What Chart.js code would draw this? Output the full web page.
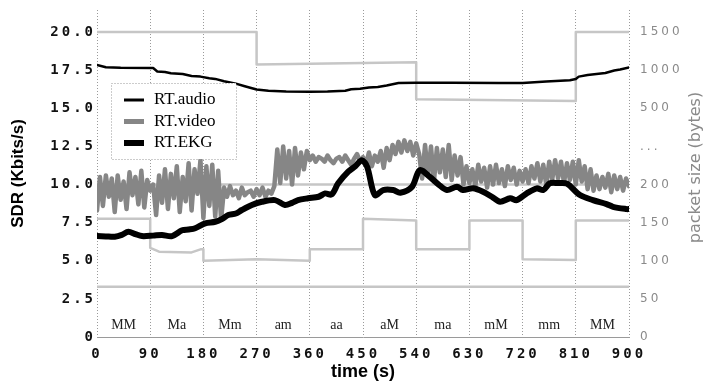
<!DOCTYPE html>
<html>
<head>
<meta charset="utf-8">
<script src="https://cdn.jsdelivr.net/npm/chart.js@4.4.0/dist/chart.umd.min.js"></script>
<style>
  html, body { margin: 0; padding: 0; background: #fff; }
  #wrap { width: 704px; height: 383px; }
</style>
</head>
<body>
<div id="wrap"><canvas id="sdrChart"></canvas></div>
<script>
// experiment phases, 90 s each
const phaseLen = 90;
const phaseStart = [0, 90, 180, 270, 360, 450, 540, 630, 720, 810];
const phaseLabels = ['MM', 'Ma', 'Mm', 'am', 'aa', 'aM', 'ma', 'mM', 'mm', 'MM'];

// axis ticks
const timeTicks = [0, 90, 180, 270, 360, 450, 540, 630, 720, 810, 900];
const sdrTicks = [0, 2.5, 5, 7.5, 10, 12.5, 15, 17.5, 20];
const packetTickLabels = ['0', '50', '100', '150', '200', '...', '500', '1000', '1500'];

// RT.audio SDR (Kbits/s)
const audioTime = [0, 15, 40, 95, 102, 115, 125, 145, 160, 175, 190, 200, 215, 235, 250, 270, 290, 320, 360, 390,
  400, 420, 430, 445, 460, 475, 490, 510, 540, 600, 680, 720, 760, 800, 810, 815, 830, 845, 860, 875, 885, 900];
const audioSdr = [17.84, 17.7, 17.66, 17.64, 17.42, 17.38, 17.3, 17.25, 17.12, 17.08, 16.98, 16.93, 16.78, 16.62, 16.45, 16.24, 16.16, 16.1, 16.08, 16.1,
  16.12, 16.15, 16.25, 16.28, 16.36, 16.4, 16.5, 16.66, 16.68, 16.68, 16.66, 16.66, 16.76, 16.84, 16.92, 17.08, 17.18, 17.25, 17.32, 17.48, 17.55, 17.68];

// RT.video SDR, sampled every 5 s
const videoStep = 5;
const videoSdr = [
  8.3, 10.5, 8.6, 10.6, 9.2, 10.4, 8.2, 10.6, 9.0, 10.2, 8.4, 10.8, 9.3, 10.5, 8.7, 10.9, 8.5, 10.3, 9.6,
  10.0, 8.0, 10.6, 8.8, 11.0, 8.4, 10.7, 9.1, 11.2, 8.2, 10.5, 8.9, 11.4, 8.3, 11.0, 9.4, 11.6, 7.8, 11.2, 8.6, 11.3, 7.9,
  10.9, 7.7, 9.8, 9.2, 9.9, 9.3, 9.6, 9.1, 9.8, 9.3, 9.5, 9.6, 9.2, 9.7, 9.3, 9.8, 9.2, 9.6, 9.4, 9.9,
  12.3, 10.1, 12.5, 10.4, 12.2, 10.0, 12.4, 10.6, 12.1, 11.0, 12.2,
  11.6, 11.9, 11.5, 11.8, 11.7, 11.5, 11.9, 11.6, 11.4, 11.7, 11.8, 11.5, 11.9, 11.6, 11.3, 11.7, 12.0, 11.5, 11.8,
  11.3, 12.1, 11.2, 11.9, 11.5, 12.2, 11.1, 12.4, 11.6, 12.6, 12.0,
  12.8, 12.1, 12.9, 12.2, 12.8, 11.9, 12.7, 12.0,
  10.4, 12.6, 10.6, 12.5, 10.2, 12.4, 10.8, 12.3, 10.5, 12.6, 10.3, 11.9, 10.6, 11.8,
  10.0, 11.2, 10.1, 11.0, 9.9, 11.3, 10.2, 11.1, 9.8, 11.2, 10.0, 11.3, 10.1, 11.0, 9.9, 11.2, 10.3, 11.1, 10.0, 10.9,
  10.2, 11.0, 10.1, 11.2, 10.4, 11.4, 10.2, 11.3, 10.0, 11.5, 10.3, 11.6, 10.4, 11.5, 10.1, 11.4, 10.3, 11.5, 10.0, 11.6,
  10.2, 11.2, 9.7, 11.0, 9.6, 10.6, 9.7, 10.5, 9.8, 10.7, 9.5, 10.6, 9.7, 10.5, 9.6, 10.4, 9.9
];

// RT.EKG SDR
const ekgTime = [0, 15, 30, 42, 53, 65, 76, 95, 110, 127, 144, 155, 166, 183, 200, 212, 222, 235, 245, 262,
  279, 301, 318, 330, 340, 357, 375, 386, 397, 408, 425, 437, 448, 457, 470, 484, 501, 513, 533, 546,
  563, 578, 592, 609, 619, 636, 653, 668, 682, 699, 710, 727, 744, 755, 766, 780, 795, 817, 839, 862, 873, 896, 900];
const ekgSdr = [6.62, 6.6, 6.58, 6.7, 6.9, 6.75, 6.62, 6.65, 6.69, 6.62, 7.0, 7.05, 7.13, 7.46, 7.56, 7.75, 8.0, 8.1, 8.33, 8.66,
  8.87, 8.98, 8.66, 8.8, 8.98, 9.1, 9.2, 9.42, 9.35, 10.08, 10.84, 11.2, 11.6, 11.17, 9.31, 9.64, 9.64, 9.46, 9.86, 10.95,
  10.5, 10.0, 9.64, 9.86, 9.64, 9.75, 9.53, 9.2, 8.87, 9.1, 8.98, 9.42, 9.75, 9.64, 10.08, 10.1, 10.06, 9.31, 8.98, 8.72, 8.54, 8.39, 8.39];

// packet sizes (bytes), read on the right hand axis
const pktATime = [0, 270, 270, 540, 540, 810, 810, 900];
const pktABytes = [1500, 1500, 1075, 1105, 620, 595, 1500, 1500];
const pktBTime = [0, 90, 90, 105, 160, 175, 180, 180, 270, 360, 360, 450, 450, 540, 540, 630, 630, 720, 720, 810, 810, 900];
const pktBBytes = [155, 155, 117, 112, 111, 115, 115, 100, 102, 100, 115, 115, 155, 153, 115, 115, 153, 153, 102, 101, 153, 153];
const pktCTime = [0, 900];
const pktCBytes = [200, 200];
const pktDTime = [0, 900];
const pktDBytes = [66, 66];

// right axis is broken: 0..200 bytes linear, then 500..1500
function packetToAxis(p) {
  return p <= 200 ? p / 20 : 12.5 + p / 200;
}

const toPts = (xs, ys) => xs.map((x, i) => ({ x: x, y: ys[i] }));
const pktPts = (xs, bytes) => xs.map((x, i) => ({ x: x, y: packetToAxis(bytes[i]) }));

const pktGray = '#c6c6c6';
const legendWidths = { 'RT.audio': 3, 'RT.video': 5, 'RT.EKG': 6 };

// tick labels are spaced out a bit like in the original plot
const spacing = {
  id: 'spacing',
  beforeDraw(chart) { chart.ctx.letterSpacing = '0px'; },
  afterDatasetsDraw(chart) { chart.ctx.letterSpacing = '3px'; },
  afterDraw(chart) { chart.ctx.letterSpacing = '0px'; }
};

const decor = {
  id: 'decor',
  afterDraw(chart) {
    const { ctx, chartArea, scales } = chart;
    ctx.save();
    ctx.letterSpacing = '0px';

    // phase names
    ctx.font = '14px "Liberation Serif"';
    ctx.fillStyle = '#222';
    ctx.textAlign = 'center';
    ctx.textBaseline = 'middle';
    phaseStart.forEach((t, i) => {
      const mid = scales.x.getPixelForValue(t + phaseLen / 2);
      ctx.fillText(phaseLabels[i], mid, chartArea.bottom - 12);
    });

    // legend box
    const bx = chartArea.left + 14, by = chartArea.top + 73;
    ctx.fillStyle = '#fff';
    ctx.fillRect(bx, by, 125, 76);
    ctx.setLineDash([1, 2]);
    ctx.strokeStyle = '#999';
    ctx.lineWidth = 1;
    ctx.strokeRect(bx + 0.5, by + 0.5, 125, 76);
    ctx.setLineDash([]);
    ctx.font = '17px "Liberation Serif"';
    ctx.textAlign = 'left';
    ['RT.audio', 'RT.video', 'RT.EKG'].forEach((name, i) => {
      const ds = chart.data.datasets.find(d => d.label === name);
      const y = by + 17 + i * 21.5;
      ctx.strokeStyle = ds.borderColor;
      ctx.lineWidth = legendWidths[name];
      ctx.beginPath();
      ctx.moveTo(bx + 13, y);
      ctx.lineTo(bx + 33, y);
      ctx.stroke();
      ctx.fillStyle = '#000';
      ctx.fillText(name, bx + 43, y);
    });

    // right axis title, reads bottom to top
    ctx.translate(696, (chartArea.top + chartArea.bottom) / 2 - 6);
    ctx.rotate(-Math.PI / 2);
    ctx.font = '16px "DejaVu Sans"';
    ctx.fillStyle = '#8a8a8a';
    ctx.textAlign = 'center';
    ctx.fillText('packet size (bytes)', 0, 0);
    ctx.restore();
  }
};

const tickFont = { family: '"DejaVu Sans Mono"', weight: 'bold', size: 14 };

// vertical axes: fixed width, no extra padding for the tick labels
const fixVertical = (w) => (s) => {
  s.width = w;
  s.paddingTop = 0;
  s.paddingBottom = 0;
};

new Chart(document.getElementById('sdrChart'), {
  type: 'line',
  data: {
    datasets: [
      { label: 'RT.EKG', data: toPts(ekgTime, ekgSdr), borderColor: '#000', borderWidth: 6, tension: 0.3 },
      { label: 'RT.video', data: videoSdr.map((v, i) => ({ x: i * videoStep, y: v })), borderColor: '#868686', borderWidth: 4.5 },
      { label: 'RT.audio', data: toPts(audioTime, audioSdr), borderColor: '#000', borderWidth: 2.5 },
      { label: 'pktA', data: pktPts(pktATime, pktABytes), borderColor: pktGray, borderWidth: 2.5 },
      { label: 'pktB', data: pktPts(pktBTime, pktBBytes), borderColor: pktGray, borderWidth: 2.5 },
      { label: 'pktC', data: pktPts(pktCTime, pktCBytes), borderColor: pktGray, borderWidth: 2.5 },
      { label: 'pktD', data: pktPts(pktDTime, pktDBytes), borderColor: pktGray, borderWidth: 2.5 }
    ]
  },
  options: {
    responsive: true,
    maintainAspectRatio: false,
    animation: false,
    layout: { padding: { top: 10, left: 0, right: 0, bottom: 0 } },
    elements: {
      point: { radius: 0 },
      line: { tension: 0, borderJoinStyle: 'round', borderCapStyle: 'round' }
    },
    plugins: {
      legend: { display: false },
      tooltip: { enabled: false }
    },
    scales: {
      x: {
        type: 'linear',
        min: 0,
        max: 900,
        afterBuildTicks: (s) => { s.ticks = timeTicks.map(v => ({ value: v })); },
        afterFit: (s) => { s.height = 46; s.paddingLeft = 0; s.paddingRight = 0; },
        grid: { color: '#9a9a9a', lineWidth: 1, drawTicks: false },
        border: { color: '#9a9a9a', dash: [1, 2] },
        ticks: { font: tickFont, color: '#111', padding: 9, maxRotation: 0, autoSkip: false, z: 1 },
        title: {
          display: true, text: 'time (s)', color: '#000', padding: 0,
          font: { family: '"Liberation Sans"', weight: 'bold', size: 18 }
        }
      },
      y: {
        position: 'left',
        min: 0,
        max: 21.45,
        afterBuildTicks: (s) => { s.ticks = sdrTicks.map(v => ({ value: v })); },
        afterFit: fixVertical(97),
        grid: { display: false, drawTicks: false },
        border: { display: false },
        ticks: {
          font: tickFont, color: '#111', padding: 1, z: 1,
          callback: (v) => (v === 0 ? '0' : v.toFixed(1))
        },
        title: {
          display: true, text: 'SDR (Kbits/s)', color: '#000', padding: { top: 8, bottom: 0 },
          font: { family: '"Liberation Sans"', weight: 'bold', size: 17 }
        }
      },
      y2: {
        position: 'right',
        min: 0,
        max: 21.45,
        afterBuildTicks: (s) => { s.ticks = sdrTicks.map(v => ({ value: v })); },
        afterFit: fixVertical(75),
        grid: { display: false, drawTicks: false },
        border: { display: false },
        ticks: {
          font: { family: '"DejaVu Sans"', size: 12 }, color: '#8a8a8a', padding: 11, z: 1,
          callback: (v, i) => packetTickLabels[i]
        }
      }
    }
  },
  plugins: [spacing, decor]
});
</script>
</body>
</html>
